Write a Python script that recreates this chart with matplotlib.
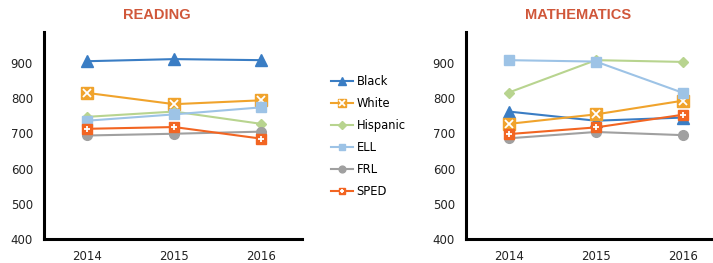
import matplotlib
matplotlib.use("Agg")
import matplotlib.pyplot as plt
from matplotlib.legend_handler import HandlerTuple

years = ["2014", "2015", "2016"]
groups = ["Black", "White", "Hispanic", "ELL", "FRL", "SPED"]

reading = {
    "Black":    [905, 911, 908],
    "White":    [815, 783, 794],
    "Hispanic": [747, 762, 727],
    "ELL":      [736, 754, 774],
    "FRL":      [694, 699, 705],
    "SPED":     [713, 718, 685],
}
math = {
    "Black":    [762, 736, 745],
    "White":    [727, 754, 793],
    "Hispanic": [816, 908, 903],
    "ELL":      [908, 904, 815],
    "FRL":      [686, 704, 695],
    "SPED":     [698, 717, 753],
}

colors = {
    "Black": "#3A7DC4",
    "White": "#F0A32C",
    "Hispanic": "#B8D48F",
    "ELL": "#9DC3E6",
    "FRL": "#A0A0A0",
    "SPED": "#F26522",
}
markers = {
    "Black": ("^", 8, None),
    "White": ("s", 8, "x"),
    "Hispanic": ("D", 5.5, None),
    "ELL": ("s", 7, None),
    "FRL": ("o", 7, None),
    "SPED": ("s", 7, "+"),
}

W, H = 713, 263
fig = plt.figure(figsize=(W / 100, H / 100), dpi=100)

def make_axes(left_px, right_px, cat0_px, data):
    unit = 87.2
    ax = fig.add_axes([left_px / W, (H - 239) / H, (right_px - left_px) / W, (239 - 32) / H])
    x = list(range(len(years)))
    handles = []
    for g in groups:
        m, ms, over = markers[g]
        ln, = ax.plot(x, data[g], color=colors[g], lw=1.5, marker=m, ms=ms,
                      mec=colors[g], mfc=colors[g])
        h = ln
        if over:
            ov, = ax.plot(x, data[g], ls="none", marker=over, ms=ms - 2,
                          mec="white", mew=1.3)
            h = (ln, ov)
        handles.append(h)
    x0 = (left_px - cat0_px) / unit
    x1 = (right_px - cat0_px) / unit
    ax.set_xlim(x0, x1)
    ax.set_ylim(400, 988)
    ax.set_yticks([400, 500, 600, 700, 800, 900])
    ax.set_xticks(x)
    ax.set_xticklabels(years)
    for s in ["top", "right"]:
        ax.spines[s].set_visible(False)
    for s in ["left", "bottom"]:
        ax.spines[s].set_linewidth(2.2)
        ax.spines[s].set_color("black")
    ax.tick_params(axis="both", length=0, labelsize=8.5, colors="#222222")
    ax.tick_params(axis="y", pad=8)
    ax.tick_params(axis="x", pad=8)
    return ax, handles

ax1, handles = make_axes(44, 302, 87, reading)
ax2, _ = make_axes(466, 713, 508.7, math)

fig.text(157 / W, 1 - 15 / H, "READING", ha="center", va="center",
         family="Liberation Sans", weight="bold", fontsize=10.5, color="#D0573A")
fig.text(578 / W, 1 - 15 / H, "MATHEMATICS", ha="center", va="center",
         family="Liberation Sans", weight="bold", fontsize=10.5, color="#D0573A")

fig.legend(handles, groups, loc="upper left", bbox_to_anchor=(321 / W, 1 - 65 / H),
           frameon=False, fontsize=8.3, handlelength=1.9, labelspacing=0.78,
           handletextpad=0.3, markerscale=0.7,
           handler_map={tuple: HandlerTuple(ndivide=1, pad=0)})

fig.savefig("out.png", dpi=100)
